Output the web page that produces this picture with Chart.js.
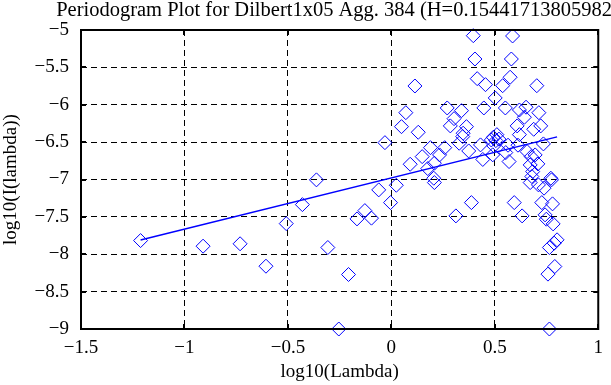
<!DOCTYPE html>
<html>
<head>
<meta charset="utf-8">
<script src="https://cdn.jsdelivr.net/npm/chart.js@4/dist/chart.umd.min.js"></script>
<style>
html,body{margin:0;padding:0;background:#fff;}
#wrap{width:611px;height:385px;position:relative;}
</style>
</head>
<body>
<div id="wrap"><canvas id="c" width="611" height="385"></canvas></div>
<script>
const titleText = "Periodogram Plot for Dilbert1x05 Agg. 384 (H=0.154417138059823)";
const xLabel = "log10(Lambda)";
const yLabel = "log10(I(lambda))";
const xTicks = [-1.5, -1, -0.5, 0, 0.5, 1];
const yTicks = [-9, -8.5, -8, -7.5, -7, -6.5, -6, -5.5, -5];

const logLambda = [
 -1.212,-0.910,-0.731,-0.606,-0.508,-0.430,-0.362,-0.307,-0.254,-0.207,
 -0.166,-0.128,-0.096,-0.061,-0.004,0.024,-0.031,0.049,0.070,0.091,
 0.114,0.130,0.149,0.176,0.189,0.205,0.208,0.208,0.233,0.258,
 0.270,0.285,0.303,0.312,0.328,0.339,0.347,0.363,0.374,0.387,
 0.396,0.404,0.415,0.431,0.442,0.447,0.455,0.493,0.502,0.505,
 0.495,0.510,0.520,0.538,0.551,0.553,0.564,0.569,0.574,0.580,
 0.586,0.594,0.608,0.612,0.619,0.619,0.632,0.643,0.651,0.656,
 0.671,0.676,0.671,0.688,0.703,0.708,0.711,0.713,0.722,0.727,
 0.735,0.738,0.743,0.749,0.757,0.764,0.764,0.771,0.774,0.779,
 0.782,0.787,0.790,0.801,0.679,0.695,0.345,0.483,0.490,0.683
];
const logPower = [
 -7.817,-7.892,-7.860,-8.160,-7.590,-7.336,-7.005,-7.910,-9.000,-8.271,
 -7.527,-7.416,-7.517,-7.139,-7.309,-7.077,-6.507,-6.293,-6.106,-6.796,
 -5.749,-6.368,-6.694,-6.854,-6.574,-6.983,-7.041,-6.782,-6.671,-6.574,
 -6.043,-6.283,-6.186,-7.487,-6.515,-6.079,-6.381,-6.293,-6.618,-7.309,
 -5.076,-5.388,-5.651,-6.537,-6.732,-6.043,-5.731,-6.435,-5.909,-6.480,
 -6.550,-6.400,-6.460,-5.745,-6.043,-6.640,-6.541,-6.760,-5.632,-5.388,
 -5.080,-7.309,-6.283,-6.541,-6.070,-6.400,-7.487,-6.167,-6.033,-6.627,
 -6.805,-6.694,-7.041,-6.328,-5.745,-6.791,-7.072,-6.106,-6.283,-7.309,
 -6.524,-7.116,-7.473,-7.531,-8.266,-7.910,-9.000,-6.983,-7.005,-7.326,
 -7.594,-7.852,-8.164,-7.807,-6.960,-6.671,-6.426,-6.471,-6.670,-6.894
];
const fitX = [-1.212, 0.801];
const fitY = [-7.81, -6.43];

const pts = logLambda.map((x, i) => ({x: x, y: logPower[i]}));
const fitPts = fitX.map((x, i) => ({x: x, y: fitY[i]}));

const serif = "'Liberation Serif', 'DejaVu Serif', serif";
const fmt = v => String(v).replace('-', '\u2212');

const framePlugin = {
  id: 'frame',
  afterDraw(chart) {
    const ctx = chart.ctx, a = chart.chartArea;
    const xs = chart.scales.x, ys = chart.scales.y;
    ctx.save();
    ctx.strokeStyle = '#000';
    ctx.lineWidth = 2;
    ctx.setLineDash([]);
    ctx.strokeRect(a.left, a.top, a.right - a.left, a.bottom - a.top);
    const L = 5;
    ctx.beginPath();
    xTicks.forEach(v => {
      const px = Math.round(xs.getPixelForValue(v));
      ctx.moveTo(px, a.bottom); ctx.lineTo(px, a.bottom - L);
      ctx.moveTo(px, a.top); ctx.lineTo(px, a.top + L);
    });
    yTicks.forEach(v => {
      const py = Math.round(ys.getPixelForValue(v));
      ctx.moveTo(a.left, py); ctx.lineTo(a.left + L, py);
      ctx.moveTo(a.right, py); ctx.lineTo(a.right - L, py);
    });
    ctx.stroke();
    ctx.fillStyle = '#000';
    ctx.font = "20.5px " + serif;
    ctx.textAlign = 'center';
    ctx.textBaseline = 'middle';
    ctx.fillText(titleText, (a.left + a.right) / 2 + 3, 11);
    ctx.restore();
  }
};

new Chart(document.getElementById('c'), {
  type: 'scatter',
  data: {
    datasets: [
      {
        type: 'line',
        data: fitPts,
        borderColor: '#0000ff',
        borderWidth: 1.5,
        pointRadius: 0,
        fill: false,
        order: 0
      },
      {
        data: pts,
        pointStyle: 'rectRot',
        pointRadius: 7,
        pointHoverRadius: 7,
        borderColor: '#0000ff',
        backgroundColor: 'rgba(0,0,0,0)',
        borderWidth: 1,
        clip: false,
        order: 1
      }
    ]
  },
  options: {
    responsive: false,
    animation: false,
    events: [],
    layout: {padding: {top: 30, right: 3, left: 0, bottom: 0}},
    plugins: {legend: {display: false}, tooltip: {enabled: false}, title: {display: false}},
    scales: {
      x: {
        type: 'linear',
        min: -1.5, max: 1,
        afterBuildTicks: s => { s.ticks = xTicks.map(v => ({value: v})); },
        afterFit: s => { s.height = 56; },
        ticks: {
          padding: 8, color: '#000', font: {family: serif, size: 19},
          callback: v => fmt(v), maxRotation: 0, autoSkip: false
        },
        grid: {color: '#000', lineWidth: 1, drawTicks: false},
        border: {display: false, dash: [6, 4]},
        title: {display: true, text: xLabel, color: '#000', font: {family: serif, size: 19}, padding: {top: 0, bottom: 2}}
      },
      y: {
        type: 'linear',
        min: -9, max: -5,
        afterBuildTicks: s => { s.ticks = yTicks.map(v => ({value: v})); },
        afterFit: s => { s.width = 81; },
        ticks: {
          padding: 12, color: '#000', font: {family: serif, size: 19},
          callback: v => fmt(v), autoSkip: false
        },
        grid: {color: '#000', lineWidth: 1, drawTicks: false},
        border: {display: false, dash: [6, 4]},
        title: {display: true, text: yLabel, color: '#000', font: {family: serif, size: 19}, padding: {top: 0, bottom: 0}}
      }
    }
  },
  plugins: [framePlugin]
});
</script>
</body>
</html>
